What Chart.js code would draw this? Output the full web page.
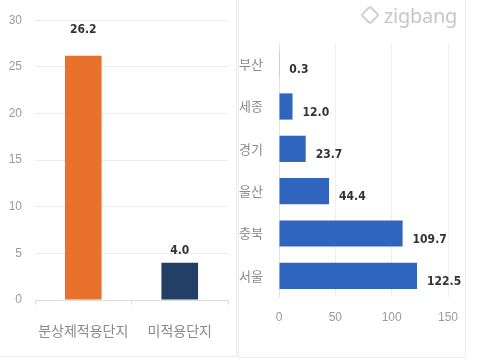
<!DOCTYPE html>
<html>
<head>
<meta charset="utf-8">
<script src="https://cdn.jsdelivr.net/npm/chart.js@4/dist/chart.umd.min.js"></script>
<style>
  html, body { margin: 0; padding: 0; background: #fff; }
  body { width: 480px; height: 360px; position: relative; overflow: hidden; font-family: "Noto Sans CJK KR", sans-serif; }
  #left { position: absolute; left: 0; top: 0; width: 236px; height: 356px; border-right: 1px solid #ececec; border-bottom: 1px solid #ececec; }
  #right { position: absolute; left: 238px; top: 0; width: 226px; height: 357px; border-left: 1px solid #ececec; border-right: 1px solid #ececec; border-bottom: 1px solid #ececec; }
  #logo { position: absolute; left: 363px; top: 2px; color: #c6c6c6; font: 20px "Noto Sans", sans-serif; letter-spacing: -0.3px; }
  #logo span { display: inline-block; width: 10px; height: 10px; border: 2px solid #cfcfcf; border-radius: 3px; transform: rotate(45deg); margin-right: 7px; vertical-align: 1px; }
</style>
</head>
<body>
<div id="left"><canvas id="c1" width="236" height="356"></canvas></div>
<div id="right"><canvas id="c2" width="226" height="357"></canvas></div>
<div id="logo"><span></span>zigbang</div>
<script>
const typeLabels = ["분상제적용단지", "미적용단지"];
const typeValues = [26.2, 4.0];
const typeColors = ["#E8712B", "#233F66"];
const yTicks = [0, 5, 10, 15, 20, 25, 30];

const regionLabels = ["부산", "세종", "경기", "울산", "충북", "서울"];
const regionValues = [0.3, 12.0, 23.7, 44.4, 109.7, 122.5];
const xTicks = [0, 50, 100, 150];

const valueLabels = {
  id: "valueLabels",
  afterDatasetsDraw(chart, args, opts) {
    const ctx = chart.ctx;
    const meta = chart.getDatasetMeta(0);
    const data = chart.data.datasets[0].data;
    ctx.save();
    ctx.fillStyle = "#333";
    ctx.font = "bold 12px 'DejaVu Sans Condensed', 'Liberation Sans', sans-serif";
    meta.data.forEach((bar, i) => {
      const txt = data[i].toFixed(1);
      if (opts.horizontal) {
        ctx.textAlign = "left";
        ctx.textBaseline = "middle";
        ctx.fillText(txt, bar.x + 10, bar.y + 6);
      } else {
        ctx.textAlign = "center";
        ctx.textBaseline = "middle";
        ctx.fillText(txt, bar.x, bar.y - opts.offsets[i]);
      }
    });
    ctx.restore();
  }
};

new Chart(document.getElementById("c1"), {
  type: "bar",
  data: {
    labels: typeLabels,
    datasets: [{ data: typeValues, backgroundColor: typeColors, barPercentage: 0.38, categoryPercentage: 1 }]
  },
  options: {
    responsive: false,
    animation: false,
    layout: { padding: { top: 15, right: 8, bottom: 0, left: 0 } },
    plugins: {
      legend: { display: false },
      tooltip: { enabled: false },
      valueLabels: { offsets: [26, 12] }
    },
    scales: {
      x: {
        grid: { drawOnChartArea: false, tickLength: 5, color: "#e2e2e2" },
        border: { color: "#dcdcdc" },
        ticks: { color: "#8a8a8a", padding: 17, font: { size: 14, family: "Noto Sans CJK KR" } },
        afterFit: s => { s.height = 56; }
      },
      y: {
        min: 0, max: 30,
        afterBuildTicks: s => { s.ticks = yTicks.map(v => ({ value: v })); },
        grid: { color: "#ececec", drawTicks: false },
        border: { display: false },
        ticks: { color: "#9a9a9a", padding: 13, font: { size: 12, family: "Liberation Sans" } },
        afterFit: s => { s.width = 35; }
      }
    }
  },
  plugins: [valueLabels]
});

new Chart(document.getElementById("c2"), {
  type: "bar",
  data: {
    labels: regionLabels,
    datasets: [{ data: regionValues, backgroundColor: "#2F65BE", barPercentage: 0.62, categoryPercentage: 1 }]
  },
  options: {
    indexAxis: "y",
    responsive: false,
    animation: false,
    layout: { padding: { top: 43, right: 17, bottom: 0, left: 0 } },
    plugins: {
      legend: { display: false },
      tooltip: { enabled: false },
      valueLabels: { horizontal: true }
    },
    scales: {
      x: {
        min: 0, max: 150,
        afterBuildTicks: s => { s.ticks = xTicks.map(v => ({ value: v })); },
        grid: { color: "#efefef", drawTicks: false },
        border: { display: false },
        ticks: { color: "#9a9a9a", padding: 13, font: { size: 12, family: "Liberation Sans" } },
        afterFit: s => { s.height = 60; s.paddingLeft = 0; s.paddingRight = 0; }
      },
      y: {
        grid: { display: false },
        border: { color: "#e4e4e4" },
        ticks: { color: "#8a8a8a", padding: 8, font: { size: 13, family: "Noto Sans CJK KR" } },
        afterFit: s => { s.width = 40; }
      }
    }
  },
  plugins: [valueLabels]
});
</script>
</body>
</html>
